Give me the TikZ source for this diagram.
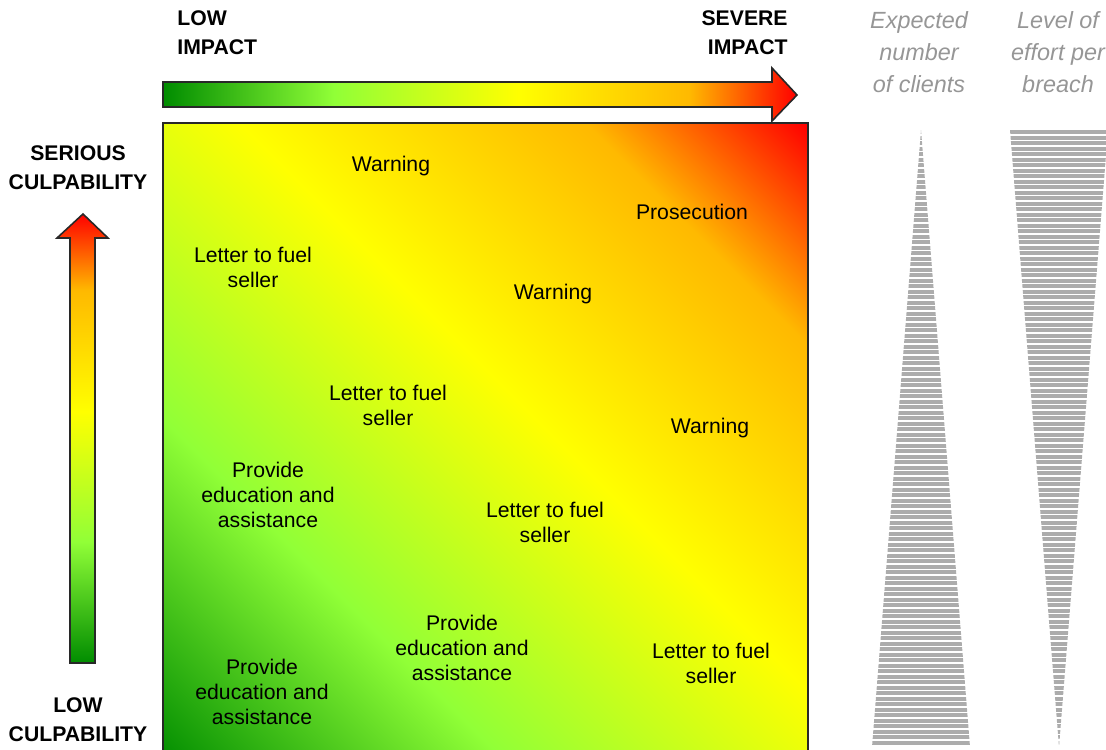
\documentclass[tikz,border=0pt]{standalone}
\usepackage{fontspec}
\setmainfont{Liberation Sans}

\definecolor{impdkgreen}{RGB}{0,140,0}
\definecolor{impltgreen}{RGB}{145,255,55}
\definecolor{impyellow}{RGB}{255,255,0}
\definecolor{imporange}{RGB}{255,185,0}
\definecolor{impred}{RGB}{255,0,0}
\definecolor{edgegray}{RGB}{40,40,40}
\definecolor{bandgray}{RGB}{172,172,172}
\definecolor{notegray}{RGB}{150,150,150}

\pgfdeclarehorizontalshading{impactfade}{100bp}{color(0bp)=(impdkgreen); color(25bp)=(impdkgreen); color(38.5bp)=(impltgreen); color(53bp)=(impyellow); color(66.5bp)=(imporange); color(75bp)=(impred); color(100bp)=(impred)}
% same fade, stretched over the diagonal of the matrix
\pgfdeclarehorizontalshading{matrixfade}{100bp}{color(0bp)=(impdkgreen); color(14.6bp)=(impdkgreen); color(33.7bp)=(impltgreen); color(54.2bp)=(impyellow); color(73.3bp)=(imporange); color(85.4bp)=(impred); color(100bp)=(impred)}

\begin{document}
\begin{tikzpicture}[x=0.5pt, y=-0.5pt,
		action/.style={align=center, inner sep=0pt, font=\fontsize{10.6}{12.5}\selectfont},
		axislabel/.style={align=center, inner sep=0pt, font=\bfseries\fontsize{10.6}{14.5}\selectfont},
		note/.style={align=center, inner sep=0pt, text=notegray, font=\itshape\fontsize{11.7}{16}\selectfont},
		fade/.style={shading=impactfade, draw=edgegray, line width=0.8pt},
		bandline/.style={bandgray, line width=2pt}]
		\useasboundingbox (0,0) rectangle (1106,749);

		% impact arrow, culpability arrow and the matrix
		\shade[fade] (163,82) -- (772,82) -- (772,68) -- (797,95) -- (772,121) -- (772,107) -- (163,107) -- cycle;
		\shade[fade, shading angle=90] (70,663) -- (70,238) -- (57,238) -- (83,214) -- (108,238) -- (95,238) -- (95,663) -- cycle;
		\shade[fade, shading=matrixfade, shading angle=45] (163,123) rectangle (808,768);

		\node[axislabel, anchor=west, align=left] (lowimp) at (177,33) {LOW\\IMPACT};
		\node[axislabel, anchor=east, align=right] (sevimp) at (788,33) {SEVERE\\IMPACT};
		\node[axislabel] (sercul) at (78,168) {SERIOUS\\CULPABILITY};
		\node[axislabel] (lowcul) at (78,720) {LOW\\CULPABILITY};

		\node[action] (warnA) at (391,166) {Warning};
		\node[action] (prosec) at (692,212) {Prosecution};
		\node[action] (letterA) at (253,267) {Letter to fuel\\seller};
		\node[action] (warnB) at (553,294) {Warning};
		\node[action] (letterB) at (388,405) {Letter to fuel\\seller};
		\node[action] (warnC) at (710,428) {Warning};
		\node[action] (eduA) at (268,495) {Provide\\education and\\assistance};
		\node[action] (letterC) at (545,522) {Letter to fuel\\seller};
		\node[action] (eduB) at (462,648) {Provide\\education and\\assistance};
		\node[action] (letterD) at (711,663) {Letter to fuel\\seller};
		\node[action] (eduC) at (262,692) {Provide\\education and\\assistance};

		% striped wedges
		\node[note] (clients) at (919,52) {Expected\\number\\of clients};
		\node[note] (effort) at (1058,52) {Level of\\effort per\\breach};
		\begin{scope}
			\clip (921,130) -- (970,747) -- (872,747) -- cycle;
			\foreach \k in {0,...,111}
				\draw[bandline] (860,132+5.5*\k) -- (980,132+5.5*\k);
		\end{scope}
		\begin{scope}
			\clip (1010,130) -- (1108,130) -- (1059,747) -- cycle;
			\foreach \k in {0,...,111}
				\draw[bandline] (1000,132+5.5*\k) -- (1120,132+5.5*\k);
		\end{scope}

	\end{tikzpicture}
\end{document}
